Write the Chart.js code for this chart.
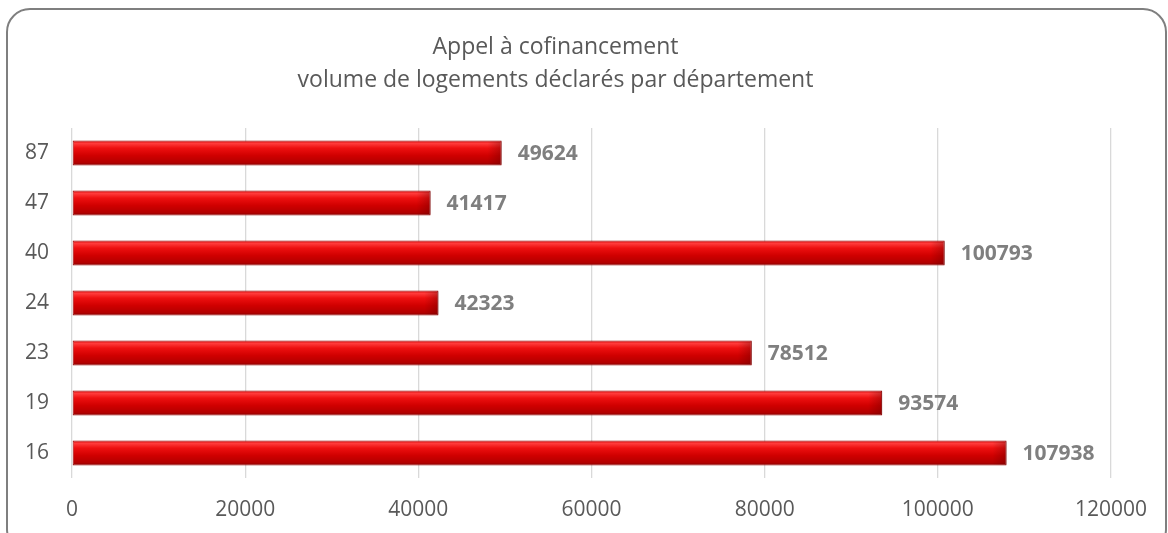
<!DOCTYPE html>
<html>
<head>
<meta charset="utf-8">
<script src="https://cdn.jsdelivr.net/npm/chart.js@4.4.1/dist/chart.umd.min.js"></script>
<style>
  html, body { margin: 0; padding: 0; background: #ffffff; overflow: hidden; }
  #wrap { position: relative; width: 1168px; height: 533px; }
  #frame { position: absolute; left: 6px; top: 8px; width: 1161px; height: 545px; box-sizing: border-box;
           border: 2.5px solid #7f7f7f; border-radius: 24px; background: #ffffff; }
  #holder { position: absolute; left: 0; top: 0; width: 1168px; height: 533px; }
</style>
</head>
<body>
<div id="wrap">
  <div id="frame"></div>
  <div id="holder"><canvas id="c" width="1168" height="533"></canvas></div>
</div>
<script>
const titleLines = ["Appel à cofinancement", "volume de logements déclarés par département"];
const departements = ["87", "47", "40", "24", "23", "19", "16"];
const logements = [49624, 41417, 100793, 42323, 78512, 93574, 107938];
const xMin = 0;
const xMax = 120000;
const xStep = 20000;

const FONT = "'Open Sans', 'Liberation Sans', sans-serif";

function barGradient(c) {
  const chart = c.chart;
  const ys = chart.scales && chart.scales.y;
  if (!ys || c.dataIndex === undefined || !isFinite(ys.top)) return '#d40000';
  const cy = ys.getPixelForValue(c.dataIndex);
  const h = (ys.bottom - ys.top) / departements.length * 0.5;
  const g = chart.ctx.createLinearGradient(0, cy - h / 2, 0, cy + h / 2);
  g.addColorStop(0, '#d00a0a');
  g.addColorStop(0.12, '#ff3a3a');
  g.addColorStop(0.3, '#ee1010');
  g.addColorStop(0.6, '#d00000');
  g.addColorStop(0.88, '#b40000');
  g.addColorStop(1, '#880000');
  return g;
}

const valueLabels = {
  id: 'valueLabels',
  afterDatasetsDraw(chart) {
    const ctx = chart.ctx;
    const meta = chart.getDatasetMeta(0);
    ctx.save();
    meta.data.forEach((bar) => {
      const p = bar.getProps(['x', 'y', 'base', 'height'], true);
      const g = ctx.createLinearGradient(p.x - 14, 0, p.x, 0);
      g.addColorStop(0, 'rgba(90,0,0,0)');
      g.addColorStop(1, 'rgba(90,0,0,0.35)');
      ctx.fillStyle = g;
      ctx.fillRect(p.x - 14, p.y - p.height / 2 + 1, 14, p.height - 2);
    });
    ctx.font = "bold 21px " + FONT;
    ctx.fillStyle = '#7f7f7f';
    ctx.textAlign = 'left';
    ctx.textBaseline = 'middle';
    meta.data.forEach((bar, i) => {
      const p = bar.getProps(['x', 'y'], true);
      ctx.fillText(String(chart.data.datasets[0].data[i]), p.x + 16, p.y + 1);
    });
    ctx.restore();
  }
};

new Chart(document.getElementById('c'), {
  type: 'bar',
  data: {
    labels: departements,
    datasets: [{
      data: logements,
      backgroundColor: barGradient,
      borderColor: '#940000',
      borderWidth: 1,
      borderSkipped: false,
      barPercentage: 0.5,
      categoryPercentage: 1.0
    }]
  },
  options: {
    indexAxis: 'y',
    responsive: false,
    animation: false,
    devicePixelRatio: 1,
    layout: { padding: { top: 14, right: 57, bottom: 0, left: 0 } },
    plugins: {
      legend: { display: false },
      tooltip: { enabled: false },
      title: {
        display: true,
        text: titleLines,
        color: '#595959',
        font: { family: FONT, size: 23, weight: 'normal', lineHeight: 33 / 23 },
        padding: { top: 17, bottom: 31 }
      }
    },
    scales: {
      x: {
        min: xMin,
        max: xMax,
        ticks: {
          stepSize: xStep,
          color: '#595959',
          font: { family: FONT, size: 21 },
          padding: 19,
          maxRotation: 0,
          callback: (v) => String(v)
        },
        grid: { color: '#d9d9d9', lineWidth: 1.3, drawTicks: false },
        border: { display: false },
        afterFit(scale) { scale.height = 55; }
      },
      y: {
        ticks: {
          color: '#595959',
          font: { family: FONT, size: 21 },
          padding: 23
        },
        grid: { display: false, drawTicks: false },
        border: { display: false },
        afterFit(scale) { scale.width = 72; }
      }
    }
  },
  plugins: [valueLabels]
});
</script>
</body>
</html>
